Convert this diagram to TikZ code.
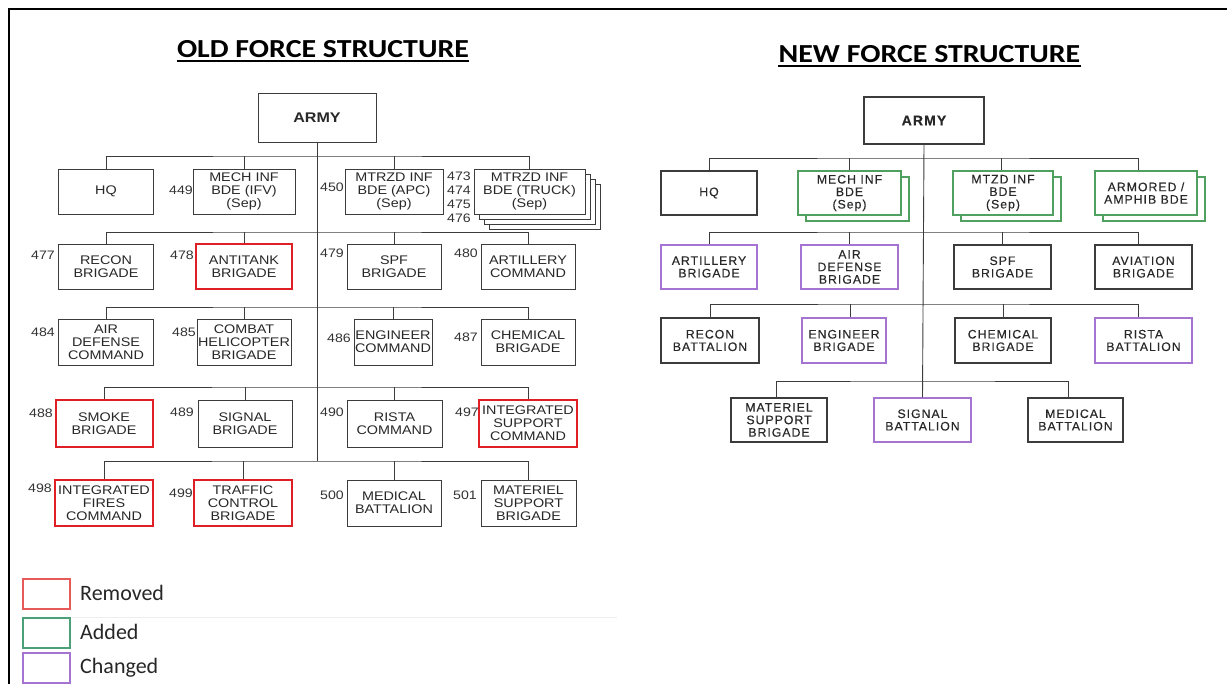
\documentclass[tikz,border=0pt]{standalone}
\usepackage{fontspec}
\usepackage{graphicx}
\setmainfont{Liberation Sans}
\newfontfamily\titlefont{Carlito}
\newfontfamily\ofont[FakeStretch=1.15]{Liberation Sans}
\newfontfamily\nfont[LetterSpace=8,FakeBold=0.25]{Liberation Sans}
\usetikzlibrary{calc}
\definecolor{ln}{RGB}{60,60,60}
\definecolor{txt}{RGB}{40,40,40}
\definecolor{remred}{RGB}{222,32,38}
\definecolor{legred}{RGB}{232,90,90}
\definecolor{addgreen}{RGB}{80,160,95}
\definecolor{leggreen}{RGB}{75,160,120}
\definecolor{chgpurple}{RGB}{165,115,210}
\tikzset{
  obox/.style={draw=ln, line width=0.9pt, fill=white, inner sep=0pt, align=center, text=txt,
    font=\ofont\fontsize{12.5}{13}\selectfont},
  nbox/.style={draw=ln, line width=1.1pt, fill=white, inner sep=0pt, align=center, text=txt,
    font=\nfont\fontsize{12.3}{12.5}\selectfont},
  rem/.style={draw=remred, line width=2pt},
  add/.style={draw=addgreen, line width=1.2pt},
  chg/.style={draw=chgpurple, line width=1.2pt},
  num/.style={inner sep=0pt, font=\ofont\fontsize{12.3}{14}\selectfont, text=black!80},
  conn/.style={draw=ln, line width=0.9pt},
  ttl/.style={anchor=base, inner sep=0pt, font=\titlefont\bfseries\fontsize{26}{26}\selectfont},
  legbox/.style={line width=1.4pt, minimum width=47pt, minimum height=30pt, inner sep=0pt},
  legtxt/.style={anchor=base west, inner sep=0pt, font=\titlefont\fontsize{22}{22}\selectfont, text=black!85}
}
\begin{document}
\begin{tikzpicture}[x=1pt,y=-1pt]
\useasboundingbox (0,0) rectangle (1227,684);
\draw[line width=2.2pt] (9,684) -- (9,9) -- (1227,9);

% ---------------- OLD ----------------
\node[ttl] (oldt) at (323,58) {\scalebox{1.15}[1]{OLD FORCE STRUCTURE}};
\draw[line width=1.8pt] ([yshift=-3pt]oldt.base west) -- ([yshift=-3pt]oldt.base east);

\node[obox, font=\ofont\bfseries\fontsize{14}{14}\selectfont, minimum width=118pt, minimum height=49pt] (army) at (317,117.5) {ARMY};

\coordinate (L1) at (317,156);
\coordinate (L2) at (317,232);
\coordinate (L3) at (317,307);
\coordinate (L4) at (317,387);
\coordinate (L5) at (317,461);
\draw[conn] (army.south) -- (L5);

% row 1
\node[obox, minimum width=95pt, minimum height=45pt] (hq) at (106,191.5) {HQ};
\node[obox, minimum width=102pt, minimum height=45pt] (mech) at (244,191.5) {MECH INF\\BDE (IFV)\\(Sep)};
\node[obox, minimum width=98pt, minimum height=45pt] (apc) at (394,191.5) {MTRZD INF\\BDE (APC)\\(Sep)};
\node[obox, minimum width=111pt, minimum height=45pt] (truckc) at (544.5,206.5) {};
\node[obox, minimum width=111pt, minimum height=45pt] (truckb) at (539.5,201.5) {};
\node[obox, minimum width=111pt, minimum height=45pt] (trucka) at (534.5,196.5) {};
\node[obox, minimum width=111pt, minimum height=45pt] (truck) at (529.5,191.5) {MTRZD INF\\BDE (TRUCK)\\(Sep)};
\draw[conn] (hq.north) |- (L1) -| (truck.north);
\draw[conn] (mech.north) -- (mech.north |- L1);
\draw[conn] (apc.north) -- (apc.north |- L1);
\node[num, anchor=east] (n449) at (193,190) {449};
\node[num, anchor=east] (n450) at (344,187) {450};
\node[num, align=center] (n473) at (459,197) {473\\474\\475\\476};

% row 2
\node[obox, minimum width=95pt, minimum height=45pt] (recon) at (106,266.5) {RECON\\BRIGADE};
\node[obox, rem, minimum width=96pt, minimum height=45pt] (atk) at (244,266.5) {ANTITANK\\BRIGADE};
\node[obox, minimum width=94pt, minimum height=45pt] (spf) at (394,266.5) {SPF\\BRIGADE};
\node[obox, minimum width=94pt, minimum height=45pt] (arty) at (528,266.5) {ARTILLERY\\COMMAND};
\draw[conn] (recon.north) |- (L2) -| (arty.north);
\draw[conn] (atk.north) -- (atk.north |- L2);
\draw[conn] (spf.north) -- (spf.north |- L2);
\node[num, anchor=east] (n477) at (55,255) {477};
\node[num, anchor=east] (n478) at (194,255) {478};
\node[num, anchor=east] (n479) at (344,253) {479};
\node[num, anchor=east] (n480) at (478,253) {480};

% row 3
\node[obox, minimum width=95pt, minimum height=46pt] (ad) at (106,342) {AIR\\DEFENSE\\COMMAND};
\node[obox, minimum width=94pt, minimum height=46pt] (heli) at (244,342) {COMBAT\\HELICOPTER\\BRIGADE};
\node[obox, minimum width=78pt, minimum height=46pt] (eng) at (393,342) {ENGINEER\\COMMAND};
\node[obox, minimum width=94pt, minimum height=46pt] (chem) at (528,342) {CHEMICAL\\BRIGADE};
\draw[conn] (ad.north) |- (L3) -| (chem.north);
\draw[conn] (heli.north) -- (heli.north |- L3);
\draw[conn] (eng.north) -- (eng.north |- L3);
\node[num, anchor=east] (n484) at (55,332) {484};
\node[num, anchor=east] (n485) at (196,332) {485};
\node[num, anchor=east] (n486) at (351,338) {486};
\node[num, anchor=east] (n487) at (478,337) {487};

% row 4
\node[obox, rem, minimum width=97pt, minimum height=47pt] (smoke) at (104,423.5) {SMOKE\\BRIGADE};
\node[obox, minimum width=94pt, minimum height=47pt] (sig) at (245,423.5) {SIGNAL\\BRIGADE};
\node[obox, minimum width=95pt, minimum height=47pt] (rista) at (394.5,423.5) {RISTA\\COMMAND};
\node[obox, rem, minimum width=98pt, minimum height=47pt] (isc) at (528,423.5) {INTEGRATED\\SUPPORT\\COMMAND};
\draw[conn] (smoke.north) |- (L4) -| (isc.north);
\draw[conn] (sig.north) -- (sig.north |- L4);
\draw[conn] (rista.north) -- (rista.north |- L4);
\node[num, anchor=east] (n488) at (53,413) {488};
\node[num, anchor=east] (n489) at (194,412) {489};
\node[num, anchor=east] (n490) at (344,412) {490};
\node[num, anchor=east] (n497) at (479,412) {497};

% row 5
\node[obox, rem, minimum width=98pt, minimum height=46pt] (ifc) at (104,503) {INTEGRATED\\FIRES\\COMMAND};
\node[obox, rem, minimum width=98pt, minimum height=46pt] (tcb) at (243,503) {TRAFFIC\\CONTROL\\BRIGADE};
\node[obox, minimum width=94pt, minimum height=46pt] (med) at (394,503) {MEDICAL\\BATTALION};
\node[obox, minimum width=95pt, minimum height=46pt] (mat) at (528.5,503) {MATERIEL\\SUPPORT\\BRIGADE};
\draw[conn] (ifc.north) |- (L5) -| (mat.north);
\draw[conn] (tcb.north) -- (tcb.north |- L5);
\draw[conn] (med.north) -- (med.north |- L5);
\node[num, anchor=east] (n498) at (52,488) {498};
\node[num, anchor=east] (n499) at (193,493) {499};
\node[num, anchor=east] (n500) at (344,495) {500};
\node[num, anchor=east] (n501) at (477,495) {501};

% legend
\coordinate (sepA) at (72,617);
\coordinate (sepB) at (617,617);
\draw[black!7, line width=0.8pt] (sepA) -- (sepB);
\node[legbox, draw=legred] (lrem) at (46.5,594) {};
\node[legbox, draw=leggreen] (ladd) at (46.5,633) {};
\node[legbox, draw=chgpurple] (lchg) at (46.5,668) {};
\node[legtxt] (trem) at (80,600) {Removed};
\node[legtxt] (tadd) at (80,639) {Added};
\node[legtxt] (tchg) at (80,673) {Changed};

% ---------------- NEW ----------------
\node[ttl] (newt) at (929.5,63) {\scalebox{1.15}[1]{NEW FORCE STRUCTURE}};
\draw[line width=1.8pt] ([yshift=-3pt]newt.base west) -- ([yshift=-3pt]newt.base east);

\node[nbox, font=\nfont\bfseries\fontsize{14}{14}\selectfont, minimum width=120pt, minimum height=47pt] (army2) at (924,120.5) {ARMY};
\coordinate (R1) at (923,158);
\coordinate (R2) at (923,232);
\coordinate (R3) at (923,304);
\coordinate (R4) at (923,381);

% row 1
\node[nbox, minimum width=96pt, minimum height=44pt] (hq2) at (709,193) {HQ};
\node[nbox, add, minimum width=103pt, minimum height=44pt] (mech2b) at (857.5,199) {};
\node[nbox, add, minimum width=103pt, minimum height=44pt] (mech2) at (849.5,193) {MECH INF\\BDE\\(Sep)};
\node[nbox, add, minimum width=100pt, minimum height=44pt] (mtzd2b) at (1011,199) {};
\node[nbox, add, minimum width=100pt, minimum height=44pt] (mtzd2) at (1003,193) {MTZD INF\\BDE\\(Sep)};
\node[nbox, add, minimum width=102pt, minimum height=44pt] (amph2b) at (1154,199) {};
\node[nbox, add, minimum width=102pt, minimum height=44pt] (amph2) at (1146,193) {ARMORED /\\AMPHIB BDE};
\draw[conn] (hq2.north) |- (R1) -| ($(amph2.north)+(-8,0)$);
\draw[conn] (mech2.north) -- (mech2.north |- R1);
\coordinate (mtzdtop) at ($(mtzd2.north)+(-2,0)$);
\draw[conn] (mtzdtop) -- (mtzdtop |- R1);

% row 2
\node[nbox, chg, minimum width=96pt, minimum height=44pt] (art2) at (709,267) {ARTILLERY\\BRIGADE};
\node[nbox, chg, minimum width=97pt, minimum height=44pt] (ad2) at (849.5,267) {AIR\\DEFENSE\\BRIGADE};
\node[nbox, minimum width=97pt, minimum height=44pt] (spf2) at (1002.5,267) {SPF\\BRIGADE};
\node[nbox, minimum width=97pt, minimum height=44pt] (avn2) at (1143.5,267) {AVIATION\\BRIGADE};
\draw[conn] (art2.north) |- (R2) -| ($(avn2.north)+(-5.5,0)$);
\draw[conn] (ad2.north) -- (ad2.north |- R2);
\draw[conn] (spf2.north) -- (spf2.north |- R2);

% row 3
\node[nbox, minimum width=98pt, minimum height=45pt] (rec2) at (710,340.5) {RECON\\BATTALION};
\node[nbox, chg, minimum width=84pt, minimum height=45pt] (eng2) at (844,340.5) {ENGINEER\\BRIGADE};
\node[nbox, minimum width=96pt, minimum height=45pt] (chem2) at (1003,340.5) {CHEMICAL\\BRIGADE};
\node[nbox, chg, minimum width=97pt, minimum height=45pt] (rista2) at (1143.5,340.5) {RISTA\\BATTALION};
\draw[conn] (rec2.north) |- (R3) -| ($(rista2.north)+(-5.5,0)$);
\coordinate (engtop) at ($(eng2.north)+(6,0)$);
\draw[conn] (engtop) -- (engtop |- R3);
\draw[conn] (chem2.north) -- (chem2.north |- R3);

% row 4
\node[nbox, minimum width=96pt, minimum height=44pt] (mat2) at (779,420) {MATERIEL\\SUPPORT\\BRIGADE};
\node[nbox, chg, minimum width=97pt, minimum height=44pt] (sig2) at (922.5,420) {SIGNAL\\BATTALION};
\node[nbox, minimum width=95pt, minimum height=44pt] (med2) at (1075.5,420) {MEDICAL\\BATTALION};
\draw[conn] ($(mat2.north)+(-3,0)$) |- (R4) -| ($(med2.north)+(-7.5,0)$);
\draw[conn] (army2.south) -- (sig2.north);
\end{tikzpicture}
\end{document}
